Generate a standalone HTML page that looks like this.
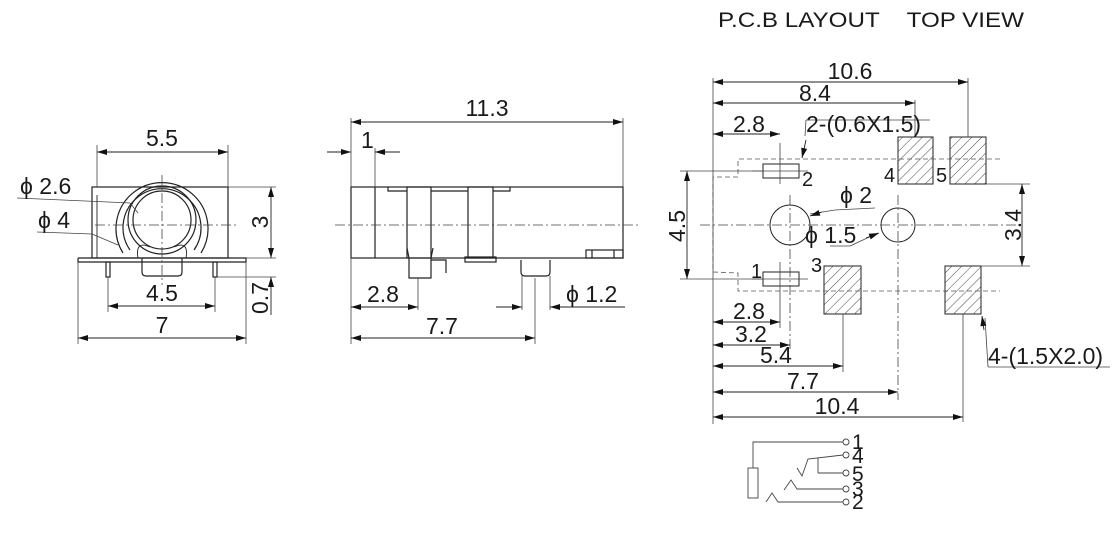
<!DOCTYPE html>
<html><head><meta charset="utf-8"><style>
html,body{margin:0;padding:0;background:#fff;}
svg{display:block;}
text{font-family:"Liberation Sans",sans-serif;fill:#1a1a1a;}
</style></head><body>
<svg width="1120" height="546" viewBox="0 0 1120 546" xmlns="http://www.w3.org/2000/svg">
<defs>
<marker id="a" viewBox="0 0 10 6" refX="10" refY="3" markerWidth="11" markerHeight="6" orient="auto-start-reverse" markerUnits="userSpaceOnUse"><path d="M0,0 L10,3 L0,6z" fill="#111"/></marker>
<pattern id="h" width="7" height="7" patternUnits="userSpaceOnUse" patternTransform="rotate(45)"><line x1="0" y1="0" x2="0" y2="7" stroke="#333" stroke-width="0.9"/></pattern>
</defs>
<g fill="none" stroke="#222" stroke-width="1.2">
<!-- LEFT VIEW -->
<rect x="92" y="187" width="136" height="71"/>
<line x1="97" y1="195" x2="97" y2="258" stroke-width="0.9"/>
<polyline points="78,258 246,258 246,262 78,262 78,258"/>
<rect x="106" y="262" width="4" height="15"/>
<rect x="213" y="262" width="4" height="15"/>
<path d="M142,258 L142,272 Q142,276 146,276 L178,276 Q182,276 182,272 L182,258"/>
<circle cx="162" cy="220" r="34"/>
<circle cx="162" cy="220" r="29"/>
<path d="M123,253 A46,46 0 1 1 201,253"/>
<path d="M130,250 A39,39 0 1 1 194,250"/>
<path d="M138,258 Q135,240 150,247" stroke-width="0.9"/>
<path d="M186,258 Q189,240 174,247" stroke-width="0.9"/>
</g>
<g stroke="#444" stroke-width="0.8" fill="none">
<line x1="162" y1="175" x2="162" y2="285" stroke-dasharray="10,3,2,3"/>
<line x1="95" y1="225" x2="237" y2="225" stroke-dasharray="10,3,2,3"/>
<line x1="97" y1="145" x2="97" y2="187"/><line x1="228" y1="145" x2="228" y2="187"/>
<line x1="228" y1="187" x2="276" y2="187"/><line x1="246" y1="258" x2="276" y2="258"/><line x1="217" y1="277" x2="276" y2="277"/>
<line x1="108" y1="277" x2="108" y2="312"/><line x1="215" y1="277" x2="215" y2="312"/>
<line x1="78" y1="262" x2="78" y2="344"/><line x1="246" y1="262" x2="246" y2="344"/>
<line x1="17" y1="198" x2="130" y2="203"/><line x1="130" y1="203" x2="138" y2="213"/>
<line x1="37" y1="232" x2="92" y2="234"/><line x1="92" y1="234" x2="118" y2="245"/>
</g>
<g stroke="#222" stroke-width="0.9">
<line x1="97" y1="152" x2="228" y2="152" marker-start="url(#a)" marker-end="url(#a)"/>
<line x1="271" y1="187" x2="271" y2="258" marker-start="url(#a)" marker-end="url(#a)"/>
<line x1="271" y1="277" x2="271" y2="315" marker-start="url(#a)"/>
<line x1="108" y1="306" x2="215" y2="306" marker-start="url(#a)" marker-end="url(#a)"/>
<line x1="78" y1="338" x2="246" y2="338" marker-start="url(#a)" marker-end="url(#a)"/>
</g>
<g font-size="23">
<text x="162" y="146" text-anchor="middle">5.5</text>
<text x="162" y="301" text-anchor="middle">4.5</text>
<text x="162" y="333" text-anchor="middle">7</text>
<text x="20" y="194">ϕ 2.6</text>
<text x="38" y="228">ϕ 4</text>
<text transform="translate(268,222) rotate(-90)" text-anchor="middle">3</text>
<text transform="translate(268,298) rotate(-90)" text-anchor="middle">0.7</text>
</g>

<!-- MIDDLE VIEW -->
<g fill="none" stroke="#222" stroke-width="1.2">
<rect x="351" y="187" width="272" height="71"/>
<line x1="375" y1="187" x2="375" y2="258"/>
<polyline points="388,187 388,191 407,191"/><polyline points="431,191 468,191"/><polyline points="493,191 510,191 510,187"/>
<rect x="407" y="187" width="24" height="71"/>
<rect x="468" y="187" width="25" height="71"/>
<path d="M407,248 L409,258 L409,278 L431,278 L431,258 L433,248"/>
<polyline points="431,260 446,260 446,273 Q446,276 443,276 L431,276" />
<rect x="465" y="257" width="31" height="5"/>
<path d="M521,260 L521,272 Q521,276 525,276 L546,276 Q550,276 550,272 L550,260"/>
<rect x="586" y="250" width="37" height="8"/><line x1="614" y1="250" x2="614" y2="258"/><line x1="592" y1="250" x2="592" y2="258"/>
</g>
<g stroke="#444" stroke-width="0.8" fill="none">
<line x1="335" y1="225" x2="640" y2="225" stroke-dasharray="10,3,2,3"/>
<line x1="351" y1="118" x2="351" y2="187"/><line x1="623" y1="118" x2="623" y2="187"/>
<line x1="375" y1="148" x2="375" y2="187"/>
<line x1="351" y1="258" x2="351" y2="344"/>
<line x1="418" y1="278" x2="418" y2="310"/>
<line x1="535" y1="278" x2="535" y2="344"/>
<line x1="522" y1="276" x2="522" y2="310"/><line x1="550" y1="276" x2="550" y2="310"/>
</g>
<g stroke="#222" stroke-width="0.9">
<line x1="351" y1="122" x2="623" y2="122" marker-start="url(#a)" marker-end="url(#a)"/>
<line x1="327" y1="152" x2="351" y2="152" marker-end="url(#a)"/><line x1="400" y1="152" x2="375" y2="152" marker-end="url(#a)"/>
<line x1="351" y1="307" x2="418" y2="307" marker-start="url(#a)" marker-end="url(#a)"/>
<line x1="351" y1="338" x2="535" y2="338" marker-start="url(#a)" marker-end="url(#a)"/>
<line x1="496" y1="307" x2="522" y2="307" marker-end="url(#a)"/><line x1="625" y1="307" x2="550" y2="307" marker-end="url(#a)"/>
</g>
<g font-size="23">
<text x="487" y="116" text-anchor="middle">11.3</text>
<text x="361" y="148">1</text>
<text x="367" y="302">2.8</text>
<text x="442" y="334" text-anchor="middle">7.7</text>
<text x="566" y="302">ϕ 1.2</text>
</g>

<!-- RIGHT VIEW -->
<text x="718" y="27" font-size="21" textLength="306" lengthAdjust="spacingAndGlyphs">P.C.B LAYOUT&#160;&#160;&#160;&#160;TOP VIEW</text>
<g stroke="#222" stroke-width="1">
<rect x="898" y="137" width="35" height="47" fill="url(#h)"/>
<rect x="950" y="137" width="36" height="47" fill="url(#h)"/>
<rect x="824" y="266" width="37" height="48" fill="url(#h)"/>
<rect x="945" y="266" width="36" height="48" fill="url(#h)"/>
<rect x="763" y="164" width="36" height="14" fill="none"/>
<rect x="763" y="272" width="36" height="14" fill="none"/>
<circle cx="790" cy="225" r="20" fill="none"/>
<circle cx="898" cy="225" r="17" fill="none"/>
</g>
<g stroke="#555" stroke-width="0.8" fill="none" stroke-dasharray="5,3">
<polyline points="1000,159 738,159 738,177 713,177 713,272 738,273 738,291 1000,291"/>
</g>
<g stroke="#444" stroke-width="0.8" fill="none">
<line x1="700" y1="225" x2="1020" y2="225" stroke-dasharray="10,3,2,3"/>
<line x1="790" y1="195" x2="790" y2="350" stroke-dasharray="10,3,2,3"/>
<line x1="898" y1="195" x2="898" y2="400" stroke-dasharray="10,3,2,3"/>
<line x1="780" y1="143" x2="780" y2="184"/><line x1="780" y1="262" x2="780" y2="328"/>
<line x1="752" y1="171" x2="808" y2="171"/><line x1="752" y1="279" x2="808" y2="279"/>
<line x1="713" y1="78" x2="713" y2="424"/>
<line x1="968" y1="78" x2="968" y2="137"/>
<line x1="915" y1="100" x2="915" y2="137"/>
<line x1="680" y1="171" x2="763" y2="171"/><line x1="680" y1="279" x2="763" y2="279"/>
<line x1="986" y1="184" x2="1030" y2="184"/><line x1="981" y1="266" x2="1030" y2="266"/>
<line x1="843" y1="314" x2="843" y2="372"/><line x1="963" y1="314" x2="963" y2="422"/>
<line x1="805" y1="136" x2="806" y2="120"/><line x1="806" y1="120" x2="930" y2="120"/>
<line x1="810" y1="214" x2="835" y2="210"/><line x1="835" y1="210" x2="875" y2="208"/>
<line x1="830" y1="246" x2="850" y2="246"/><line x1="850" y1="246" x2="878" y2="233"/>
<line x1="985" y1="318" x2="988" y2="367"/><line x1="988" y1="367" x2="1110" y2="367"/>
</g>
<g stroke="#222" stroke-width="0.9" fill="none">
<line x1="713" y1="82" x2="968" y2="82" marker-start="url(#a)" marker-end="url(#a)"/>
<line x1="713" y1="103" x2="915" y2="103" marker-start="url(#a)" marker-end="url(#a)"/>
<line x1="713" y1="134" x2="780" y2="134" marker-start="url(#a)" marker-end="url(#a)"/>
<line x1="806" y1="140" x2="802" y2="158" marker-end="url(#a)"/>
<line x1="822" y1="212" x2="810" y2="216" marker-end="url(#a)"/>
<line x1="866" y1="238" x2="879" y2="233" marker-end="url(#a)"/>
<line x1="687" y1="171" x2="687" y2="279" marker-start="url(#a)" marker-end="url(#a)"/>
<line x1="1022" y1="184" x2="1022" y2="266" marker-start="url(#a)" marker-end="url(#a)"/>
<line x1="713" y1="322" x2="780" y2="322" marker-start="url(#a)" marker-end="url(#a)"/>
<line x1="713" y1="345" x2="790" y2="345" marker-start="url(#a)" marker-end="url(#a)"/>
<line x1="713" y1="366" x2="843" y2="366" marker-start="url(#a)" marker-end="url(#a)"/>
<line x1="713" y1="392" x2="898" y2="392" marker-start="url(#a)" marker-end="url(#a)"/>
<line x1="713" y1="417" x2="963" y2="417" marker-start="url(#a)" marker-end="url(#a)"/>
<line x1="984" y1="330" x2="982" y2="316" marker-end="url(#a)"/>
</g>
<g font-size="23">
<text x="850" y="79" text-anchor="middle">10.6</text>
<text x="815" y="101" text-anchor="middle">8.4</text>
<text x="749" y="132" text-anchor="middle">2.8</text>
<text x="806" y="132">2-(0.6X1.5)</text>
<text x="802" y="186" font-size="20">2</text>
<text x="884" y="182" font-size="20">4</text>
<text x="936" y="182" font-size="20">5</text>
<text x="751" y="278" font-size="20">1</text>
<text x="811" y="272" font-size="20">3</text>
<text x="840" y="203">ϕ 2</text>
<text x="805" y="243">ϕ 1.5</text>
<text transform="translate(685,226) rotate(-90)" text-anchor="middle">4.5</text>
<text transform="translate(1021,225) rotate(-90)" text-anchor="middle">3.4</text>
<text x="749" y="319" text-anchor="middle">2.8</text>
<text x="751" y="342" text-anchor="middle">3.2</text>
<text x="776" y="363" text-anchor="middle">5.4</text>
<text x="803" y="389" text-anchor="middle">7.7</text>
<text x="837" y="414" text-anchor="middle">10.4</text>
<text x="988" y="364">4-(1.5X2.0)</text>
</g>

<!-- SCHEMATIC -->
<g stroke="#444" stroke-width="0.9" fill="none">
<polyline points="753,468 753,442 843,442"/>
<rect x="748" y="468" width="10" height="30"/>
<polyline points="797,468 802,476 808,459 843,455"/>
<line x1="818" y1="458" x2="818" y2="473"/><line x1="818" y1="473" x2="843" y2="473"/>
<polyline points="784,490 791,480 797,489 843,489"/>
<polyline points="766,502 772,493 778,502 843,502"/>
<circle cx="846" cy="442" r="3"/><circle cx="846" cy="455" r="3"/><circle cx="846" cy="473" r="3"/><circle cx="846" cy="489" r="3"/><circle cx="846" cy="502" r="3"/>
</g>
<g font-size="21">
<text x="852" y="449">1</text><text x="852" y="463">4</text><text x="852" y="481">5</text><text x="852" y="496">3</text><text x="852" y="509">2</text>
</g>
</svg>
</body></html>
